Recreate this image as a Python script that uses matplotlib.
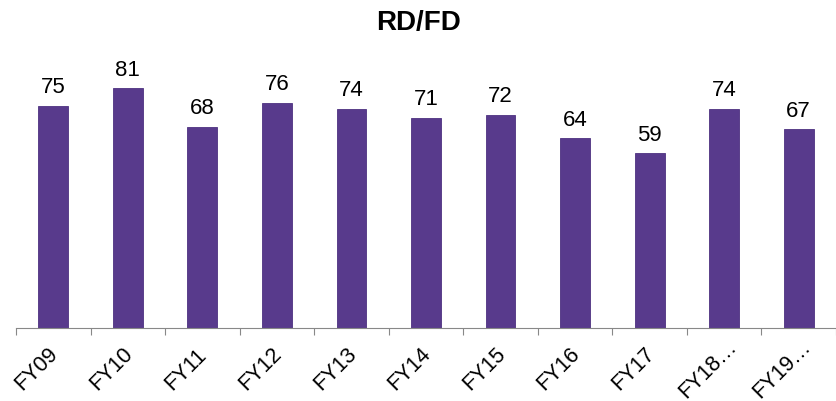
import matplotlib.pyplot as plt

plt.rcParams['font.family'] = ['Liberation Sans', 'DejaVu Sans']

years = ['FY09', 'FY10', 'FY11', 'FY12', 'FY13', 'FY14', 'FY15', 'FY16', 'FY17', 'FY18…', 'FY19…']
rd_fd = [75, 81, 68, 76, 74, 71, 72, 64, 59, 74, 67]


def plot_rd_fd():
    fig = plt.figure(figsize=(8.36, 4.02), dpi=100)
    ax = fig.add_axes([16 / 836, 73 / 402, 820 / 836, 280 / 402])

    x = range(len(years))
    bars = ax.bar(x, rd_fd, width=0.4, color='#583a8c', edgecolor='#4d3180', linewidth=0.6)
    ax.bar_label(bars, labels=[str(v) for v in rd_fd], padding=6, fontsize=16)

    ax.set_xlim(-0.5, len(years) - 0.5)
    ax.set_ylim(0, 94.5)
    ax.set_yticks([])
    for s in ['top', 'right', 'left']:
        ax.spines[s].set_visible(False)
    ax.spines['bottom'].set_color('#888888')

    # ticks sit between categories
    ax.set_xticks([i - 0.5 for i in range(len(years) + 1)])
    ax.set_xticklabels([])
    ax.tick_params(axis='x', length=5, color='#888888', direction='out')
    # rotated category labels, centred below each bar (excel style)
    for i, lab in enumerate(years):
        ax.text(i - 0.22, -13.6, lab, rotation=45, ha='center', va='center',
                rotation_mode='anchor', fontsize=15.5)

    fig.text(0.5, 1 - 23 / 402, 'RD/FD', ha='center', va='center',
             fontsize=20, fontweight='bold')
    fig.savefig('out.png', dpi=100)


if __name__ == '__main__':
    plot_rd_fd()
